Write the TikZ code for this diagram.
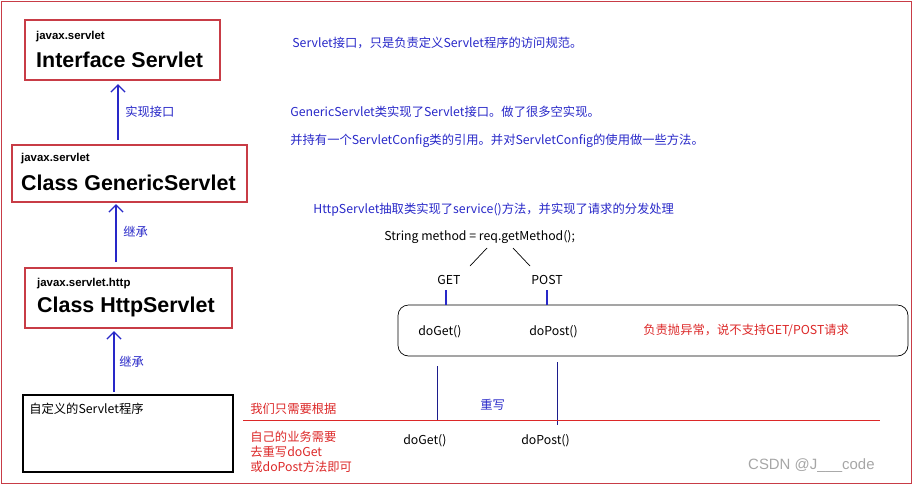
\documentclass[tikz,border=0pt]{standalone}
\usepackage{fontspec}
\setmainfont{Liberation Sans}
\newfontfamily\cjk{Noto Sans CJK SC}
\usetikzlibrary{positioning,arrows.meta}
\definecolor{noteblue}{RGB}{40,40,200}
\definecolor{notered}{RGB}{220,40,40}
\definecolor{framered}{RGB}{200,60,70}
\begin{document}
\begin{tikzpicture}[%
    x=0.02cm,
    y=-0.02cm,
    >={Straight Barb[length=4pt,width=8pt]},
    classbox/.style={%
      draw=framered,
      thick,
      fill=white
    },
    pkg/.style={%
      anchor=west,
      font=\fontsize{6.5}{7}\selectfont\bfseries
    },
    cls/.style={%
      anchor=west,
      font=\fontsize{12.2}{13}\selectfont\bfseries
    },
    note/.style={%
      anchor=west,
      inner sep=0pt,
      font=\cjk\fontsize{7}{8.5}\selectfont
    },
    uparrow/.style={%
      ->,
      thick,
      noteblue
    }
  ]
    \useasboundingbox (0,0) rectangle (912,484);
    \draw[framered] (1,1) rectangle (911,483);

    % class boxes
    \draw[classbox] (25,20) rectangle (220,80);
    \node[pkg] (p1) at (30,37) {javax.servlet};
    \node[cls] (c1) at (30,60) {Interface Servlet};
    \draw[classbox] (12,145) rectangle (247,202);
    \node[pkg] (p2) at (15,159) {javax.servlet};
    \node[cls] (c2) at (15,183) {Class GenericServlet};
    \draw[classbox] (25,268) rectangle (232,328);
    \node[pkg] (p3) at (31,284) {javax.servlet.http};
    \node[cls] (c3) at (31,307) {Class HttpServlet};
    \draw[thick] (23,395) rectangle (233,472);
    \node[note] (own) at (29,409) {自定义的Servlet程序};

    \coordinate (a1s) at (118,140);
    \coordinate (a1e) at (118,84);
    \coordinate (a2s) at (116,262);
    \coordinate (a2e) at (116,204);
    \coordinate (a3s) at (114,392);
    \coordinate (a3e) at (114,331);
    \draw[uparrow] (a1s) -- (a1e);
    \draw[uparrow] (a2s) -- (a2e);
    \draw[uparrow] (a3s) -- (a3e);
    \node[note, noteblue] (l1) at (125,112) {实现接口};
    \node[note, noteblue] (l2) at (123,232) {继承};
    \node[note, noteblue] (l3) at (119,362) {继承};

    % notes
    \node[note, noteblue] (n1) at (292,43) {Servlet接口，只是负责定义Servlet程序的访问规范。};
    \node[note, noteblue] (n2) at (290,112) {GenericServlet类实现了Servlet接口。做了很多空实现。};
    \node[note, noteblue] (n3) at (290,141) {并持有一个ServletConfig类的引用。并对ServletConfig的使用做一些方法。};
    \node[note, noteblue] (n4) at (313,210) {HttpServlet抽取类实现了service()方法，并实现了请求的分发处理};
    \node[note] (meth) at (384,237) {String method = req.getMethod();};

    \coordinate (s1a) at (487,248);
    \coordinate (s1b) at (470,266);
    \coordinate (s2a) at (513,248);
    \coordinate (s2b) at (530,266);
    \draw (s1a) -- (s1b);
    \draw (s2a) -- (s2b);
    \node[note] (get) at (437,280) {GET};
    \node[note] (post) at (531,280) {POST};

    \draw[rounded corners=6pt] (398,305) rectangle (908,356);
    \coordinate (g1) at (446,290);
    \coordinate (g2) at (446,305);
    \coordinate (p1a) at (547,290);
    \coordinate (p1b) at (547,305);
    \draw[noteblue, thick] (g1) -- (g2);
    \draw[noteblue, thick] (p1a) -- (p1b);
    \node[note] (dg1) at (418,332) {doGet()};
    \node[note] (dp1) at (529,332) {doPost()};
    \node[note, notered] (exc) at (643,330) {负责抛异常，说不支持GET/POST请求};

    \coordinate (v1a) at (437,366);
    \coordinate (v1b) at (437,421);
    \coordinate (v2a) at (557,362);
    \coordinate (v2b) at (557,425);
    \draw[noteblue!70!black] (v1a) -- (v1b);
    \draw[noteblue!70!black] (v2a) -- (v2b);
    \coordinate (h1) at (243,420);
    \coordinate (h2) at (880,420);
    \draw[notered] (h1) -- (h2);
    \node[note, notered] (we) at (250,409) {我们只需要根据};
    \node[note, noteblue] (ow) at (480,405) {重写};
    \node[note] (dg2) at (403,441) {doGet()};
    \node[note] (dp2) at (521,441) {doPost()};
    \node[note, notered, align=left] (need) at (250,452) {自己的业务需要\\去重写doGet\\或doPost方法即可};
    \node[anchor=west, text=gray!70, font=\fontsize{8.5}{10}\selectfont] (mark) at (742,466) {CSDN @J\_\_\_code};
\end{tikzpicture}
\end{document}
